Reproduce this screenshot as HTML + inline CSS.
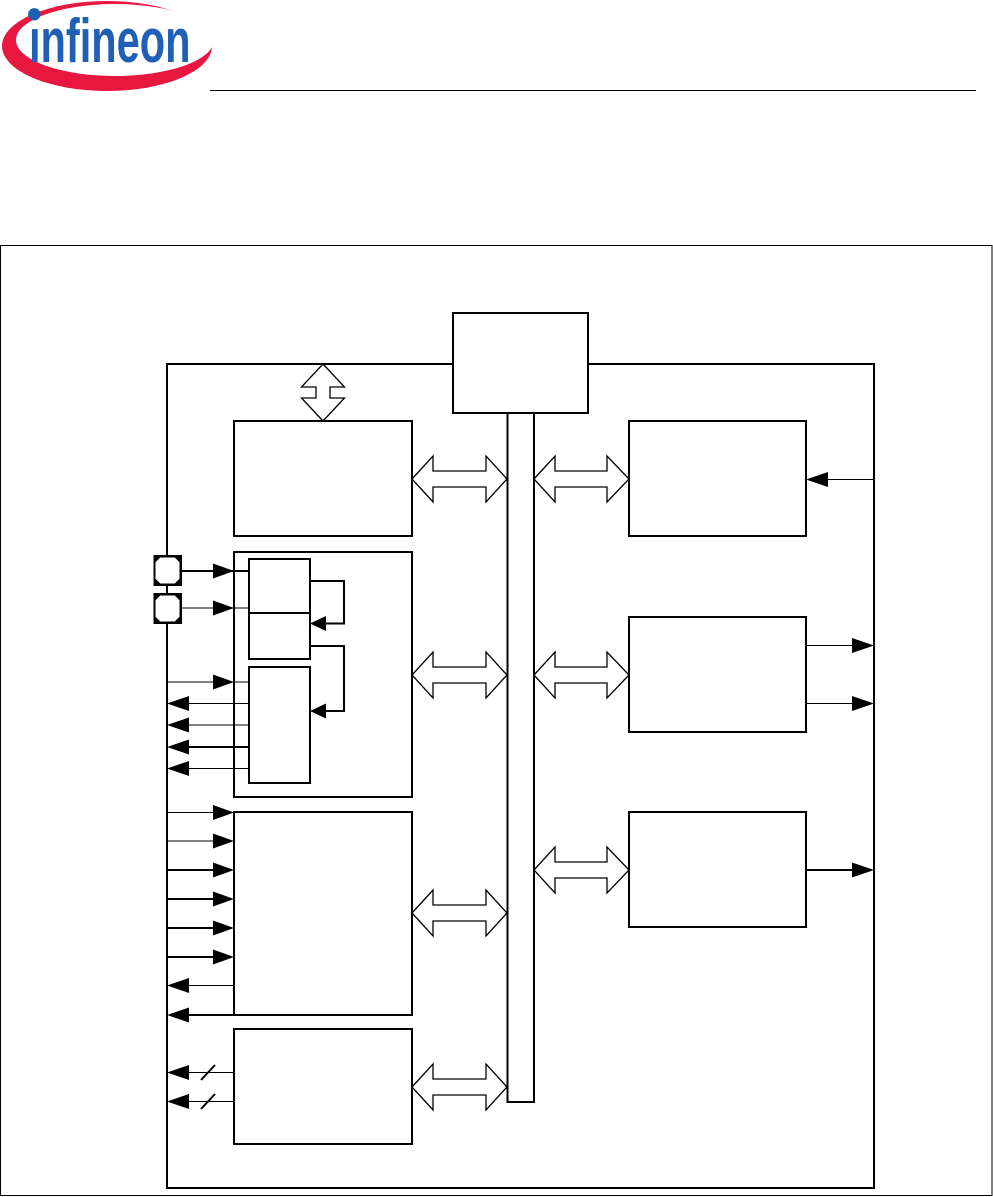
<!DOCTYPE html>
<html><head><meta charset="utf-8"><style>
html,body{margin:0;padding:0;background:#fff;}
svg{display:block;}
</style></head><body>
<svg width="993" height="1197" viewBox="0 0 993 1197" xmlns="http://www.w3.org/2000/svg">
<rect width="993" height="1197" fill="#fff"/>
<!-- Logo -->
<ellipse cx="107" cy="46" rx="105" ry="45" fill="#e8173f"/>
<ellipse cx="115" cy="40" rx="99" ry="36" fill="#fff"/>
<circle cx="34.3" cy="14.3" r="6.2" fill="#1f5fb5"/>
<text x="0" y="62" transform="translate(29 0) scale(0.67 1)" font-family="Liberation Sans, sans-serif" font-weight="bold" font-size="62" fill="#1f5fb5">ınfineon</text>
<line x1="210" y1="90.5" x2="976" y2="90.5" stroke="#000" stroke-width="1"/>

<!-- outer frame -->
<rect x="0.5" y="245.5" width="991.5" height="950" fill="none" stroke="#000" stroke-width="1"/>

<g stroke="#000" fill="none" stroke-width="2">
<!-- chip -->
<rect x="167" y="364" width="707" height="824"/>
<!-- top box -->
<rect x="453" y="313" width="135" height="100" fill="#fff"/>
<!-- bus -->
<rect x="507.5" y="413" width="26.5" height="689" fill="#fff"/>
<!-- left blocks -->
<rect x="234" y="421" width="178" height="115"/>
<rect x="234" y="552" width="178" height="245"/>
<rect x="234" y="812" width="178" height="203"/>
<rect x="234" y="1029" width="178" height="115"/>
<!-- sub blocks -->
<rect x="249" y="559" width="61" height="54"/>
<rect x="249" y="613" width="61" height="46"/>
<rect x="249" y="667" width="61" height="116"/>
<!-- right blocks -->
<rect x="629" y="421" width="177" height="115"/>
<rect x="629" y="617" width="177" height="115"/>
<rect x="629" y="812" width="177" height="115"/>
</g>

<!-- pads -->
<g stroke="#000">
<rect x="154.5" y="556" width="26.5" height="29" fill="#fff" stroke-width="2"/>
<polygon points="155,557 160,557 155,562" fill="#000" stroke="none"/>
<polygon points="180,557 175,557 180,562" fill="#000" stroke="none"/>
<polygon points="155,584 160,584 155,579" fill="#000" stroke="none"/>
<polygon points="180,584 175,584 180,579" fill="#000" stroke="none"/>
<polygon points="160,557 175,557 180,562 180,579 175,584 160,584 155,579 155,562" fill="none" stroke-width="1"/>
<rect x="154.5" y="594" width="26.5" height="29" fill="#fff" stroke-width="2"/>
<polygon points="155,595 160,595 155,600" fill="#000" stroke="none"/>
<polygon points="180,595 175,595 180,600" fill="#000" stroke="none"/>
<polygon points="155,622 160,622 155,617" fill="#000" stroke="none"/>
<polygon points="180,622 175,622 180,617" fill="#000" stroke="none"/>
<polygon points="160,595 175,595 180,600 180,617 175,622 160,622 155,617 155,600" fill="none" stroke-width="1"/>
</g>

<!-- double arrows -->
<g fill="#fff" stroke="#000" stroke-width="1.3" stroke-linejoin="miter">
<polygon points="323,364 344.5,387 330,387 330,398 344.5,398 323,421 301.5,398 316,398 316,387 301.5,387"/>
<polygon points="412,479 433,456 433,471 486,471 486,456 507,479 486,502 486,487 433,487 433,502"/>
<polygon points="534,479 555,456 555,471 607,471 607,456 629,479 607,502 607,487 555,487 555,502"/>
<polygon points="412,675 433,652 433,667 486,667 486,652 507,675 486,698 486,683 433,683 433,698"/>
<polygon points="534,675 555,652 555,667 607,667 607,652 629,675 607,698 607,683 555,683 555,698"/>
<polygon points="412,913 433,890 433,905 486,905 486,890 507,913 486,936 486,921 433,921 433,936"/>
<polygon points="534,870 555,847 555,862 607,862 607,847 629,870 607,893 607,878 555,878 555,893"/>
<polygon points="412,1087 433,1064 433,1079 486,1079 486,1064 507,1087 486,1110 486,1095 433,1095 433,1110"/>
</g>

<!-- connector lines -->
<g stroke="#000" fill="none">
<line x1="181" y1="571" x2="249" y2="571" stroke-width="2"/>
<line x1="181" y1="608" x2="249" y2="608" stroke-width="1"/>
<line x1="167" y1="682" x2="249" y2="682" stroke-width="1"/>
<line x1="175" y1="703.5" x2="249" y2="703.5" stroke-width="1"/>
<line x1="175" y1="725" x2="249" y2="725" stroke-width="1"/>
<line x1="175" y1="747" x2="249" y2="747" stroke-width="2"/>
<line x1="175" y1="768.5" x2="249" y2="768.5" stroke-width="1"/>
<polyline points="310,581 344,581 344,623.5 318,623.5" stroke-width="2"/>
<polyline points="310,646 344,646 344,711 318,711" stroke-width="2"/>
<line x1="167" y1="812.5" x2="226" y2="812.5" stroke-width="1"/>
<line x1="167" y1="841" x2="226" y2="841" stroke-width="1"/>
<line x1="167" y1="870" x2="226" y2="870" stroke-width="2"/>
<line x1="167" y1="899" x2="226" y2="899" stroke-width="2"/>
<line x1="167" y1="928" x2="226" y2="928" stroke-width="2"/>
<line x1="167" y1="957" x2="226" y2="957" stroke-width="2"/>
<line x1="175" y1="985.5" x2="234" y2="985.5" stroke-width="1"/>
<line x1="175" y1="1015" x2="234" y2="1015" stroke-width="2"/>
<line x1="175" y1="1072.5" x2="234" y2="1072.5" stroke-width="1"/>
<line x1="175" y1="1101.5" x2="234" y2="1101.5" stroke-width="1"/>
<line x1="201" y1="1080" x2="215" y2="1065" stroke-width="2"/>
<line x1="201" y1="1109" x2="215" y2="1094" stroke-width="2"/>
<line x1="874" y1="479.5" x2="815" y2="479.5" stroke-width="1"/>
<line x1="806" y1="645.5" x2="866" y2="645.5" stroke-width="1"/>
<line x1="806" y1="703.5" x2="866" y2="703.5" stroke-width="1"/>
<line x1="806" y1="870" x2="866" y2="870" stroke-width="2"/>
</g>

<!-- filled arrowheads -->
<g fill="#000">
<polygon points="234,571 213,563.5 213,578.5"/>
<polygon points="234,608 213,600.5 213,615.5"/>
<polygon points="234,682 213,674.5 213,689.5"/>
<polygon points="167,703.5 189,696 189,711"/>
<polygon points="167,725 189,717.5 189,732.5"/>
<polygon points="167,747 189,739.5 189,754.5"/>
<polygon points="167,768.5 189,761 189,776"/>
<polygon points="310,623.5 326,616 326,631"/>
<polygon points="310,711 326,703.5 326,718.5"/>
<polygon points="234,812.5 213,805 213,820"/>
<polygon points="234,841 213,833.5 213,848.5"/>
<polygon points="234,870 213,862.5 213,877.5"/>
<polygon points="234,899 213,891.5 213,906.5"/>
<polygon points="234,928 213,920.5 213,935.5"/>
<polygon points="234,957 213,949.5 213,964.5"/>
<polygon points="167,985.5 189,978 189,993"/>
<polygon points="167,1015 189,1007.5 189,1022.5"/>
<polygon points="167,1072.5 189,1065 189,1080"/>
<polygon points="167,1101.5 189,1094 189,1109"/>
<polygon points="806,479.5 828,472 828,487"/>
<polygon points="874,645.5 852,638 852,653"/>
<polygon points="874,703.5 852,696 852,711"/>
<polygon points="874,870 852,862.5 852,877.5"/>
</g>
</svg>
</body></html>
